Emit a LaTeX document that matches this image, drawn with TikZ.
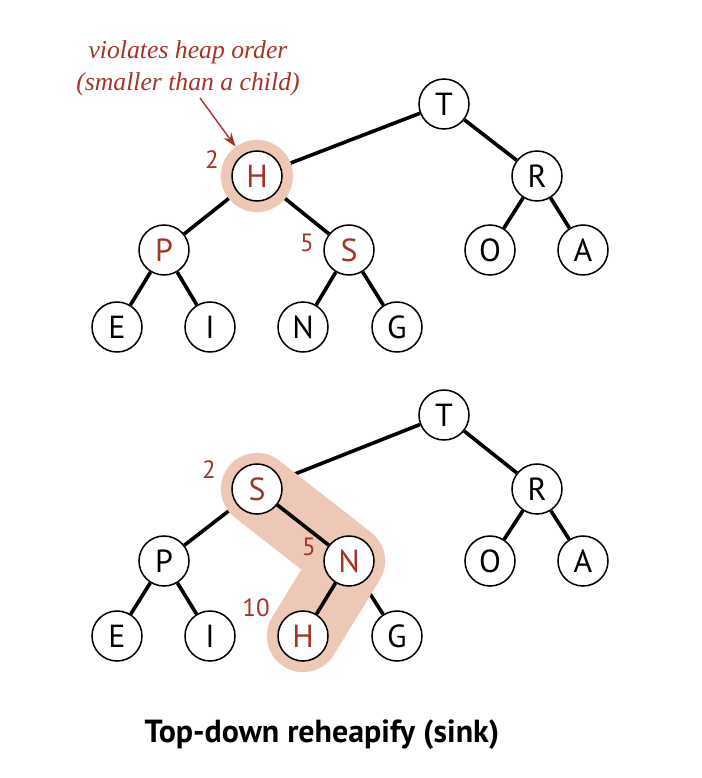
\documentclass[tikz,border=0pt]{standalone}
\usepackage{fontspec}
\setsansfont{PT Sans}
\newfontfamily\notefont{Liberation Serif}
\usetikzlibrary{arrows.meta,backgrounds}
\definecolor{heapred}{RGB}{163,52,40}
\definecolor{heaptint}{RGB}{238,200,182}
\tikzset{
	key/.style={circle,draw,line width=1.1pt,fill=white,minimum size=36pt,inner sep=0pt,font=\sffamily\fontsize{23}{23}\selectfont},
	hot/.style={key,text=heapred},
	link/.style={line width=2.6pt},
	idx/.style={text=heapred,font=\sffamily\fontsize{18}{18}\selectfont},
	tint/.style={draw=heaptint,line width=52pt,line cap=round,line join=round}
}

\begin{document}
\begin{tikzpicture}[x=0.72pt,y=-0.72pt]
	\useasboundingbox (0,0) rectangle (702,778);
	% heap before the sink
	\node[key] (T1) at (444,104) {T};
	\node[hot] (H1) at (257,176) {H};
	\node[key] (R1) at (537,176) {R};
	\node[hot] (P1) at (164,250) {P};
	\node[hot] (S1) at (349,250) {S};
	\node[key] (O1) at (490,250) {O};
	\node[key] (A1) at (583,250) {A};
	\node[key] (E1) at (117,327) {E};
	\node[key] (I1) at (210,327) {I};
	\node[key] (N1) at (303,327) {N};
	\node[key] (G1) at (397,327) {G};
	\node[idx] (h1) at (212,160) {2};
	\node[idx] (s1) at (307,243) {5};
	
	% heap after the sink
	\node[key] (T2) at (444,415) {T};
	\node[hot] (S2) at (257,489) {S};
	\node[key] (R2) at (537,489) {R};
	\node[key] (P2) at (164,561) {P};
	\node[hot] (N2) at (349,561) {N};
	\node[key] (O2) at (490,561) {O};
	\node[key] (A2) at (583,561) {A};
	\node[key] (E2) at (117,636) {E};
	\node[key] (I2) at (210,636) {I};
	\node[hot] (H2) at (303,636) {H};
	\node[key] (G2) at (397,636) {G};
	\node[idx] (s2) at (209,470) {2};
	\node[idx] (n2) at (309,547) {5};
	\node[idx] (h2) at (256,608) {10};
	
	\begin{pgfonlayer}{background}
		\foreach \a/\b in {T1/H1,T1/R1,H1/P1,H1/S1,R1/O1,R1/A1,P1/E1,P1/I1,S1/N1,S1/G1,
			T2/S2,T2/R2,S2/P2,R2/O2,R2/A2,P2/E2,P2/I2,N2/G2}
			\draw[link] (\a) -- (\b);
		\node[circle,fill=heaptint,minimum size=52pt,inner sep=0pt] (ring) at (H1) {};
		\draw[tint] (S2.center) -- (N2.center) -- (H2.center);
	\end{pgfonlayer}
	\draw[link] (S2) -- (N2);
	\draw[link] (N2) -- (H2);
	
	\node[text=heapred,font=\notefont\itshape\fontsize{18.5}{23}\selectfont,align=center] (note) at (188,68) {violates heap order\\(smaller than a child)};
	\coordinate (tail) at (200,98);
	\draw[heapred,line width=1pt,-{Stealth[length=10pt,width=7pt]}] (tail) -- (ring);
	
	\node[font=\sffamily\bfseries\fontsize{23}{23}\selectfont] (title) at (322,735) {Top-down reheapify (sink)};
\end{tikzpicture}
\end{document}
